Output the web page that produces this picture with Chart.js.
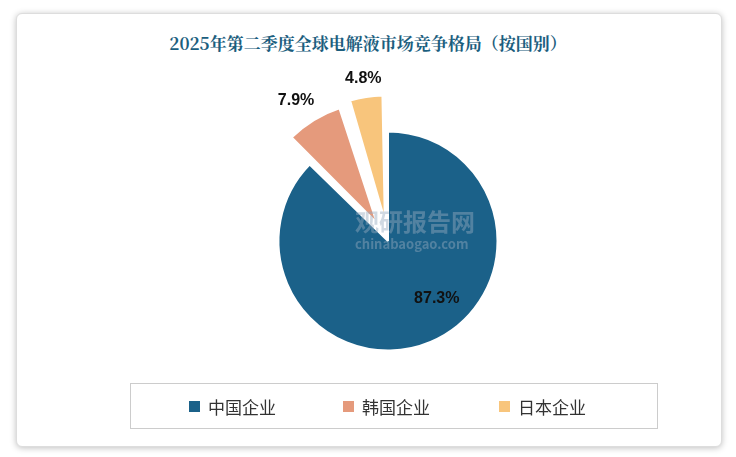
<!DOCTYPE html>
<html>
<head>
<meta charset="utf-8">
<script src="https://cdn.jsdelivr.net/npm/chart.js@4.4.1/dist/chart.umd.min.js"></script>
<style>
  body { margin: 0; background: #fff; font-family: "Noto Sans CJK SC", sans-serif; }
  #wrap { position: relative; width: 736px; height: 457px; }
  #card { position: absolute; left: 16px; top: 13px; width: 704px; height: 432px; border: 1px solid #ddd;
          border-radius: 6px; box-shadow: 0 1px 6px rgba(0,0,0,0.25); background: #fff; }
  #title { position: absolute; left: 0; width: 736px; top: 30px; text-align: center; font-size: 17px;
           font-weight: bold; color: #1b5e7e; font-family: "Noto Serif CJK SC", "Noto Sans CJK SC", serif; }
  #chart { position: absolute; left: 0; top: 0; }
  #legend { position: absolute; left: 130px; top: 383px; width: 526px; height: 44px; border: 1px solid #ccc;
            display: flex; align-items: center; font-size: 17px; color: #333; }
  .item { display: flex; align-items: center; position: absolute; }
  .sw { width: 11px; height: 11px; margin-right: 8px; }
  #wm { position: absolute; left: 310px; top: 203px; color: rgba(150,170,190,0.45); font-weight: bold; }
</style>
</head>
<body>
<div id="wrap">
  <div id="card"></div>
  <div id="title">2025年第二季度全球电解液市场竞争格局（按国别）</div>
  <canvas id="chart" width="736" height="457"></canvas>
  <div id="wm"><div style="font-size:24px;margin-left:45px">观研报告网</div><div style="font-size:13px;margin-left:45px;margin-top:-4px">chinabaogao.com</div></div>
  <div id="legend"></div>
</div>
<script>
const categories = ["中国企业", "韩国企业", "日本企业"];
const shares = [87.3, 7.9, 4.8];
const colors = ["#1b6189", "#e59a7c", "#f8c57c"];
const offsets = [0, 85, 85];

// legend
const legend = document.getElementById("legend");
const legendX = [58, 212, 368];
categories.forEach((c, i) => {
  const d = document.createElement("div");
  d.className = "item";
  d.style.left = legendX[i] + "px";
  d.innerHTML = `<div class="sw" style="background:${colors[i]}"></div>${c}`;
  legend.appendChild(d);
});

const pctLabels = {
  id: "pctLabels",
  afterDatasetsDraw(chart) {
    const ctx = chart.ctx;
    const meta = chart.getDatasetMeta(0);
    ctx.save();
    ctx.font = "bold 16px 'Liberation Sans', sans-serif";
    ctx.fillStyle = "#111";
    ctx.textAlign = "center";
    ctx.textBaseline = "middle";
    meta.data.forEach((arc, i) => {
      const mid = (arc.startAngle + arc.endAngle) / 2;
      const r = i === 0 ? arc.outerRadius * 0.7 : arc.outerRadius + 55;
      let x = arc.x + Math.cos(mid) * r;
      let y = arc.y + Math.sin(mid) * r;
      if (i === 0) { x += 19; y -= 13; }
      if (i === 1) { x -= 6; }
      ctx.fillText(shares[i].toFixed(1) + "%", x, y);
    });
    ctx.restore();
  }
};

new Chart(document.getElementById("chart"), {
  type: "pie",
  data: {
    labels: categories,
    datasets: [{
      data: shares,
      backgroundColor: colors,
      borderColor: "#fff",
      borderWidth: 2,
      offset: offsets
    }]
  },
  options: {
    responsive: false,
    animation: false,
    layout: { padding: { left: 235, top: 88, right: 195, bottom: 63 } },
    plugins: { legend: { display: false }, tooltip: { enabled: false } }
  },
  plugins: [pctLabels]
});
</script>
</body>
</html>
